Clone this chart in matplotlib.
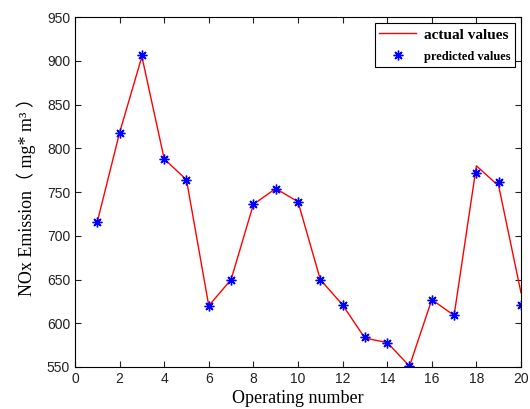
import numpy as np
import matplotlib
matplotlib.use('Agg')
import matplotlib.pyplot as plt

# operating numbers and NOx emission values
runs = list(range(1, 21))
actual = [716, 818, 905, 788, 764, 620, 650, 736, 754, 739,
          650, 621, 583, 578, 551, 627, 609, 780, 757, 635]
predicted = [716, 818, 907, 788, 764, 620, 650, 736, 754, 739,
             650, 621, 584, 578, 551, 627, 609, 772, 761, 621]

xticks = [0, 2, 4, 6, 8, 10, 12, 14, 16, 18, 20]
yticks = [550, 600, 650, 700, 750, 800, 850, 900, 950]

fig = plt.figure(figsize=(5.3, 4.09), dpi=100)
ax = fig.add_axes([0.1415, 0.1027, 0.8415, 0.8553])

ax.plot(runs, actual, color='red', lw=1.0, label='actual values')
ax.plot(runs, predicted, ls='none', marker=(8, 2, 0), ms=7, mew=1.0,
        color='blue', label='predicted values')

ax.set_xlim(0, 20)
ax.set_ylim(550, 950)
ax.set_xticks(xticks)
ax.set_yticks(yticks)
ax.tick_params(direction='in', top=True, right=True, length=4,
               labelsize=10, colors='#222222')
for lab in ax.get_xticklabels() + ax.get_yticklabels():
    lab.set_family('Liberation Sans')

ax.set_xlabel('Operating number', family='Liberation Serif', fontsize=13, labelpad=3)
ax.set_ylabel('NOx Emission（ mg* m³ ）', family=['Liberation Serif', 'Noto Sans CJK SC'],
              fontsize=13, labelpad=8)

leg = ax.legend(loc='upper right', fancybox=False, edgecolor='black',
                framealpha=1, borderpad=0.3, handlelength=2.4, handletextpad=0.5,
                borderaxespad=0.4,
                prop={'family': 'Liberation Serif', 'weight': 'bold', 'size': 11})
leg.get_frame().set_linewidth(0.8)
leg.get_texts()[1].set_fontsize(9)

fig.savefig('out.png', dpi=100)
